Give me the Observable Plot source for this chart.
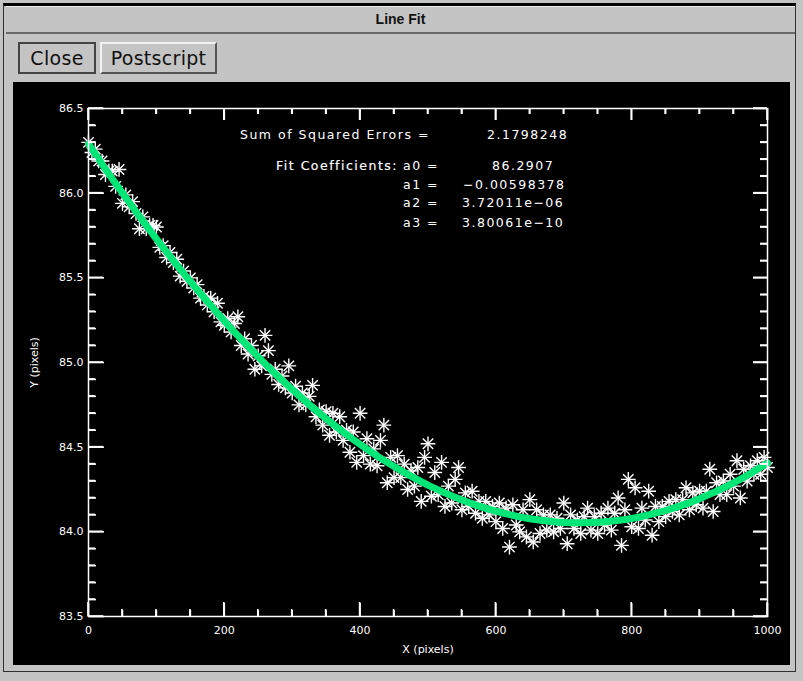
<!DOCTYPE html>
<html>
<head>
<meta charset="utf-8">
<script src="https://cdn.jsdelivr.net/npm/d3@7"></script>
<script src="https://cdn.jsdelivr.net/npm/@observablehq/plot@0.6"></script>
<style>
  html, body { margin: 0; padding: 0; }
  body { width: 803px; height: 681px; background: #c4c4c4; position: relative; overflow: hidden; font-family: "DejaVu Sans", sans-serif; }
  #frame { position: absolute; left: 3px; top: 3px; width: 793px; height: 669px; border: 1px solid #303030; border-top: 3px solid #000; box-sizing: border-box; }
  #titlebar { position: absolute; left: 6px; top: 6px; width: 789px; height: 25px; border-bottom: 2px solid #6a6a6a; border-top: 1px solid #f0f0f0; text-align: center; font: bold 14px "Liberation Sans Narrow", "Liberation Sans", sans-serif; line-height: 25px; color: #111; }
  .btn { position: absolute; top: 42px; height: 32px; box-sizing: border-box; border: 2px solid; border-color: #f2f2f2 #555 #555 #f2f2f2; background: #c4c4c4; font: 19px "DejaVu Sans", sans-serif; line-height: 28px; color: #111; text-align: center; letter-spacing: 0.3px; }
  #close { left: 18px; width: 78px; border-color: #444 #444 #444 #444; }
  #post { left: 100px; width: 117px; }
  #canvas { position: absolute; left: 13px; top: 82px; width: 777px; height: 583px; background: #000; z-index: 1; }
  .ann { position: absolute; color: #fff; font: 12.5px "DejaVu Sans", sans-serif; letter-spacing: 1.5px; line-height: 14px; white-space: pre; z-index: 2; }
</style>
</head>
<body>
<div id="frame"></div>
<div id="titlebar">Line Fit</div>
<div class="btn" id="close">Close</div>
<div class="btn" id="post">Postscript</div>
<div id="canvas"></div>
<script>
// ---- data ----
const pointX = [0,5,10,15,20,25,30,35,40,45,50,55,60,65,70,75,80,85,90,95,
  100,105,110,115,120,125,130,135,140,145,150,155,160,165,170,175,180,185,190,195,
  200,205,210,215,220,225,230,235,240,245,250,255,260,265,270,275,280,285,290,295,
  300,305,310,315,320,325,330,335,340,345,350,355,360,365,370,375,380,385,390,395,
  400,405,410,415,420,425,430,435,440,445,450,455,460,465,470,475,480,485,490,495,
  500,505,510,515,520,525,530,535,540,545,550,555,560,565,570,575,580,585,590,595,
  600,605,610,615,620,625,630,635,640,645,650,655,660,665,670,675,680,685,690,695,
  700,705,710,715,720,725,730,735,740,745,750,755,760,765,770,775,780,785,790,795,
  800,805,810,815,820,825,830,835,840,845,850,855,860,865,870,875,880,885,890,895,
  900,905,910,915,920,925,930,935,940,945,950,955,960,965,970,975,980,985,990,995,1000];
const pointY = [86.30,86.24,86.26,86.19,86.19,86.11,86.13,86.13,86.04,86.14,85.94,85.99,85.92,85.95,85.88,85.79,85.86,85.79,85.81,85.81,
  85.80,85.68,85.69,85.62,85.65,85.59,85.61,85.51,85.54,85.48,85.50,85.44,85.46,85.38,85.39,85.34,85.38,85.30,85.35,85.24,
  85.22,85.26,85.18,85.23,85.27,85.10,85.14,85.05,85.10,84.96,85.04,84.98,85.16,85.07,84.93,84.96,84.87,84.92,84.85,84.98,
  84.82,84.86,84.75,84.82,84.75,84.80,84.865,84.68,84.72,84.63,84.71,84.57,84.70,84.59,84.68,84.54,84.60,84.47,84.59,84.41,
  84.70,84.45,84.55,84.40,84.49,84.39,84.54,84.63,84.29,84.44,84.32,84.45,84.32,84.40,84.25,84.36,84.27,84.38,84.18,84.44,
  84.52,84.21,84.35,84.22,84.41,84.15,84.27,84.17,84.31,84.38,84.13,84.23,84.15,84.24,84.11,84.18,84.08,84.18,84.10,84.15,
  84.06,84.17,84.02,84.14,83.91,84.16,84.04,84.00,84.13,83.97,84.19,83.94,84.13,83.99,84.10,84.01,84.10,84.00,84.08,84.02,
  84.17,83.93,84.10,84.02,84.07,83.99,84.09,84.14,84.01,84.09,83.99,84.11,84.04,84.14,84.01,84.11,84.20,83.92,84.13,84.31,
  84.03,84.26,84.02,84.14,84.07,84.24,83.98,84.15,84.06,84.15,84.09,84.18,84.12,84.19,84.10,84.19,84.26,84.13,84.23,84.16,
  84.24,84.14,84.24,84.37,84.12,84.29,84.22,84.30,84.22,84.34,84.27,84.42,84.20,84.37,84.30,84.39,84.34,84.42,84.34,84.44,84.38];
const fitX = [0,25,50,75,100,125,150,175,200,225,250,275,300,325,350,375,400,425,450,475,
  500,525,550,575,600,625,650,675,700,725,750,775,800,825,850,875,900,925,950,975,1000];
const fitY = [86.291,86.143,86.001,85.863,85.730,85.602,85.478,85.360,85.246,85.137,85.033,84.934,84.841,84.752,84.668,84.590,84.517,84.449,84.386,84.329,
  84.276,84.230,84.188,84.152,84.122,84.097,84.077,84.064,84.055,84.053,84.056,84.065,84.079,84.100,84.126,84.158,84.196,84.240,84.289,84.345,84.407];
const xMajor = [0,200,400,600,800,1000];
const xMinor = [50,100,150,250,300,350,450,500,550,650,700,750,850,900,950];
const xTickLabels = ["0","200","400","600","800","1000"];
const yMajor = [83.5,84.0,84.5,85.0,85.5,86.0,86.5];
const yMinor = [83.6,83.7,83.8,83.9,84.1,84.2,84.3,84.4,84.6,84.7,84.8,84.9,85.1,85.2,85.3,85.4,85.6,85.7,85.8,85.9,86.1,86.2,86.3,86.4];
const yTickLabels = ["83.5","84.0","84.5","85.0","85.5","86.0","86.5"];
const annotations = [
  {text: "Sum of Squared Errors =", left: 240, top: 128},
  {text: "2.1798248", left: 487, top: 128},
  {text: "Fit Coefficients:", left: 276, top: 159, bold: true},
  {text: "a0 =", left: 403, top: 159},
  {text: "86.2907", left: 492, top: 159},
  {text: "a1 =", left: 403, top: 178},
  {text: "\u22120.00598378", left: 463, top: 178},
  {text: "a2 =", left: 403, top: 196},
  {text: "3.72011e\u221206", left: 462, top: 196},
  {text: "a3 =", left: 403, top: 216},
  {text: "3.80061e\u221210", left: 462, top: 216}
];

const points = pointX.map((x, i) => ({x, y: pointY[i]}));
const fit = fitX.map((x, i) => ({x, y: fitY[i]}));
const lineColor = "#00e676";

const W = 777, H = 583, mL = 75, mR = 23, mT = 26, mB = 49;
const frameW = W - mL - mR, frameH = H - mT - mB;
const tk = {stroke: "#ffffff", fill: "none", strokeWidth: 1.6};

const chart = Plot.plot({
  width: W,
  height: H,
  marginLeft: mL,
  marginRight: mR,
  marginTop: mT,
  marginBottom: mB,
  style: {background: "black", color: "white", fontFamily: "DejaVu Sans, sans-serif", fontSize: "11px"},
  x: {domain: [0, 1000]},
  y: {domain: [83.5, 86.5]},
  marks: [
    Plot.dot(points, {x: "x", y: "y", symbol: "plus", r: 4.8, stroke: "white", strokeWidth: 1.4}),
    Plot.dot(points, {x: "x", y: "y", symbol: "times", r: 4.8, stroke: "white", strokeWidth: 1.4}),
    Plot.line(fit, {x: "x", y: "y", stroke: lineColor, strokeWidth: 7, curve: "natural"}),
    Plot.frame({stroke: "white", strokeWidth: 1.5}),
    Plot.axisX(xMajor, {anchor: "bottom", tickSize: 0, tickPadding: 10, fill: "white",
      tickFormat: (d, i) => xTickLabels[i], label: "X (pixels)", labelAnchor: "center", labelOffset: 36, labelArrow: "none"}),
    Plot.axisY(yMajor, {anchor: "left", tickSize: 0, tickPadding: 5, fill: "white",
      tickFormat: (d, i) => yTickLabels[i], label: "Y (pixels)", labelAnchor: "center", labelOffset: 58, labelArrow: "none"}),
    // inward ticks on all four edges (axes anchored on the opposite side, shifted across the frame)
    Plot.axisX(xMinor, {...tk, anchor: "top", tickSize: 7, dy: frameH}),
    Plot.axisX(xMajor, {...tk, anchor: "top", tickSize: 14, dy: frameH}),
    Plot.axisX(xMinor, {...tk, anchor: "bottom", tickSize: 6, dy: -frameH}),
    Plot.axisX(xMajor, {...tk, anchor: "bottom", tickSize: 12, dy: -frameH}),
    Plot.axisY(yMinor, {...tk, anchor: "right", tickSize: 7, dx: -frameW}),
    Plot.axisY(yMajor, {...tk, anchor: "right", tickSize: 15, dx: -frameW}),
    Plot.axisY(yMinor, {...tk, anchor: "left", tickSize: 7, dx: frameW}),
    Plot.axisY(yMajor, {...tk, anchor: "left", tickSize: 14, dx: frameW})
  ]
});
document.getElementById("canvas").appendChild(chart);

// redundant inward ticks placed through the chart's own scales
try {
  const sx = chart.scale("x"), sy = chart.scale("y");
  const fx = sx.apply ? (v) => sx.apply(v) : Plot.scale({x: sx}).apply;
  const fy = sy.apply ? (v) => sy.apply(v) : Plot.scale({y: sy}).apply;
  const x0 = fx(0), x1 = fx(1000), yb = fy(83.5), yt = fy(86.5);
  const g = d3.select(chart).append("g").attr("stroke", "#ffffff").attr("stroke-width", 1.6);
  const seg = (a, b, c, d) => g.append("line").attr("x1", a).attr("y1", b).attr("x2", c).attr("y2", d);
  for (const v of xMinor) { seg(fx(v), yb, fx(v), yb - 7); seg(fx(v), yt, fx(v), yt + 6); }
  for (const v of xMajor) { seg(fx(v), yb, fx(v), yb - 14); seg(fx(v), yt, fx(v), yt + 12); }
  for (const v of yMinor) { seg(x0, fy(v), x0 + 7, fy(v)); seg(x1, fy(v), x1 - 7, fy(v)); }
  for (const v of yMajor) { seg(x0, fy(v), x0 + 15, fy(v)); seg(x1, fy(v), x1 - 14, fy(v)); }
} catch (e) { /* axis marks above already draw the ticks */ }

for (const a of annotations) {
  const d = document.createElement("div");
  d.className = "ann";
  d.textContent = a.text;
  d.style.left = a.left + "px";
  d.style.top = a.top + "px";
  if (a.bold) d.style.webkitTextStroke = "0.15px white";
  document.body.appendChild(d);
}
</script>
</body>
</html>
